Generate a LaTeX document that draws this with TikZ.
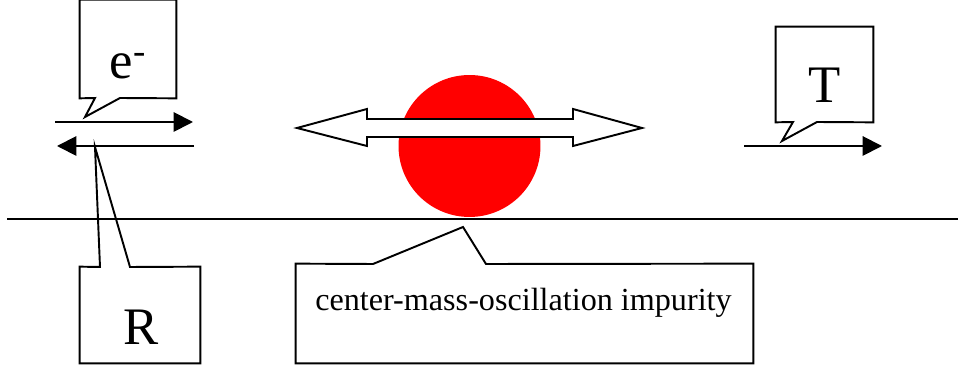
\documentclass[tikz,border=0pt]{standalone}
\usepackage{fontspec}
\setmainfont{Liberation Serif}
\usetikzlibrary{arrows.meta,positioning,calc}
\tikzset{
  box/.style={draw=none, inner sep=0pt},
  outline/.style={line width=1.1pt, line join=miter},
  flow/.style={line width=1.1pt, -{Triangle[length=11pt,width=11pt]}},
  big/.style={font=\fontsize{30}{32}\selectfont, anchor=base, inner sep=0pt},
  mid/.style={font=\fontsize{18.3}{20}\selectfont, anchor=base, inner sep=0pt}}

\begin{document}
\begin{tikzpicture}[x=0.02cm, y=-0.02cm]
  \useasboundingbox (0,0) rectangle (958,367);
  % impurity and surface
  \node[circle, fill=red, minimum size=2.84cm, inner sep=0pt] (imp) at (469.5,146) {};
  \coordinate (sl) at (7,219);
  \coordinate (sr) at (958,219);
  \draw[line width=1.1pt] (sl) -- (sr);
  \draw[outline, fill=white] (297,128) -- (367,109) -- (367,119) -- (573,119) -- (573,109) -- (642,128)
    -- (573,146) -- (573,137) -- (367,137) -- (367,146) -- cycle;
  % incoming / reflected / transmitted
  \coordinate (ein) at (55,122);   \coordinate (eout) at (193,122);
  \coordinate (rin) at (194,146);  \coordinate (rout) at (57,146);
  \coordinate (tin) at (744,146);  \coordinate (tout) at (882,146);
  \draw[flow] (ein) -- (eout);
  \draw[flow] (rin) -- (rout);
  \draw[flow] (tin) -- (tout);
  % callouts
  \node[box, minimum width=1.92cm, minimum height=1.96cm] (ebox) at (128,49) {};
  \draw[outline] (ebox.north west) -| (ebox.south east) -- (120,98) -- (85,117) -- (95,98) -- (ebox.south west) -- cycle;
  \node[big] (etxt) at (128,79) {e\textsuperscript{-}};
  \node[box, minimum width=1.94cm, minimum height=1.9cm] (tbox) at (824.5,74.5) {};
  \draw[outline] (tbox.north west) -| (tbox.south east) -- (817,122) -- (782,141) -- (793,122) -- (tbox.south west) -- cycle;
  \node[big] (ttxt) at (824.5,103) {T};
  \node[box, minimum width=2.4cm, minimum height=1.92cm] (rbox) at (140,315) {};
  \draw[outline] (rbox.south west) -| (rbox.north east) -- (130,267) -- (95,147) -- (100,267) -- (rbox.north west) -- cycle;
  \node[big] (rtxt) at (141,345) {R};
  \node[box, minimum width=9.14cm, minimum height=1.98cm] (ibox) at (524.5,313.5) {};
  \draw[outline] (ibox.south west) -| (ibox.north east) -- (486,264) -- (463,227) -- (373,264) -- (ibox.north west) -- cycle;
  \node[mid] (itxt) at (523.5,311) {center-mass-oscillation impurity};
\end{tikzpicture}
\end{document}
